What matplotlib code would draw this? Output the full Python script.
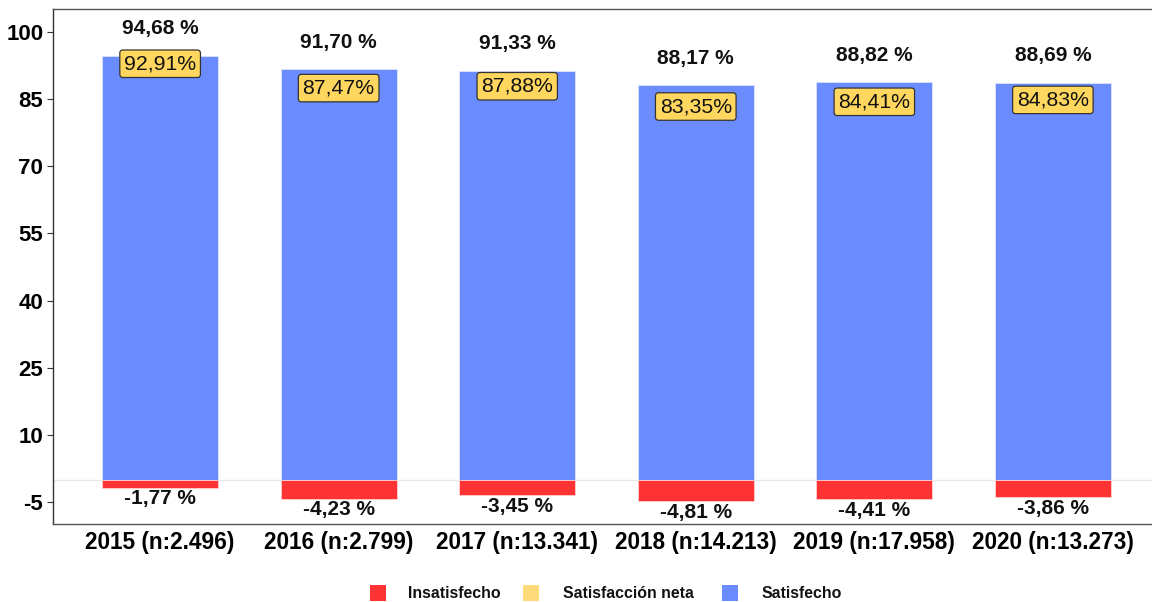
import matplotlib
matplotlib.use("Agg")
import matplotlib.pyplot as plt
from matplotlib.patches import Rectangle

categories = ["2015 (n:2.496)", "2016 (n:2.799)", "2017 (n:13.341)",
              "2018 (n:14.213)", "2019 (n:17.958)", "2020 (n:13.273)"]
satisfecho = [94.68, 91.70, 91.33, 88.17, 88.82, 88.69]
insatisfecho = [-1.77, -4.23, -3.45, -4.81, -4.41, -3.86]
neta = [92.91, 87.47, 87.88, 83.35, 84.41, 84.83]
yticks = [-5, 10, 25, 40, 55, 70, 85, 100]
legend_labels = ["Insatisfecho", "Satisfacción neta", "Satisfecho"]

BLUE = "#6B8CFF"
RED = "#FF3333"
YELLOW_BOX = "#FFD75E"
YELLOW_KEY = "#FFDA7A"

plt.rcParams['font.family'] = ['Liberation Sans', 'DejaVu Sans']

W, H = 1152, 602
fig = plt.figure(figsize=(W / 100, H / 100), dpi=100)
ax = fig.add_axes([53 / W, 1 - 524 / H, (1160 - 53) / W, (524 - 9) / H])

x = list(range(len(categories)))
ax.axhline(0, color="#E8E8E8", lw=1.0, zorder=0)
ax.bar(x, satisfecho, width=0.65, color=BLUE, edgecolor="#DDE4FF", lw=0.6, zorder=2)
ax.bar(x, insatisfecho, width=0.65, color=RED, edgecolor="#FFD0D0", lw=0.6, zorder=2)

def fmt(v, space=True):
    s = f"{v:.2f}".replace(".", ",")
    return s + (" %" if space else "%")

for xi, s, i, n in zip(x, satisfecho, insatisfecho, neta):
    ax.text(xi, s + 6.0, fmt(s), ha="center", va="center", fontsize=15,
            fontweight="bold", color="#111111", zorder=4)
    ax.text(xi, i - 2.5, fmt(i), ha="center", va="center", fontsize=15,
            fontweight="bold", color="#111111", zorder=4)
    ax.text(xi, n, fmt(n, space=False), ha="center", va="center", fontsize=15.3,
            color="#111111", zorder=5,
            bbox=dict(boxstyle="round,pad=0.2,rounding_size=0.15",
                      fc=YELLOW_BOX, ec="#333333", lw=0.9))

ax.set_xlim(-0.6, 5.6)
ax.set_ylim(-9.92, 105.14)
ax.set_yticks(yticks)
ax.set_yticklabels([str(t) for t in yticks], fontsize=16, fontweight="bold")
ax.set_xticks(x)
ax.set_xticklabels(categories, fontsize=16.3, fontweight="bold")
ax.tick_params(axis="both", length=4, width=0.8, color="#333333", pad=3)
ax.tick_params(axis="x", length=0, pad=5)
for sp in ax.spines.values():
    sp.set_color("#555555")
    sp.set_linewidth(1.0)
ax.spines["left"].set_color("#333333")

# legend
key_x = [370, 523, 722]
text_x = [408, 563, 762]
colors = [RED, YELLOW_KEY, BLUE]
yc = 593
for kx, tx, c, lab in zip(key_x, text_x, colors, legend_labels):
    fig.patches.append(Rectangle((kx / W, 1 - (yc + 8) / H), 16 / W, 16 / H,
                                 transform=fig.transFigure, fc=c, ec="none"))
    fig.text(tx / W, 1 - yc / H, lab, ha="left", va="center", fontsize=11.4,
             fontweight="bold", color="#111111")

fig.savefig("out.png", dpi=100)
